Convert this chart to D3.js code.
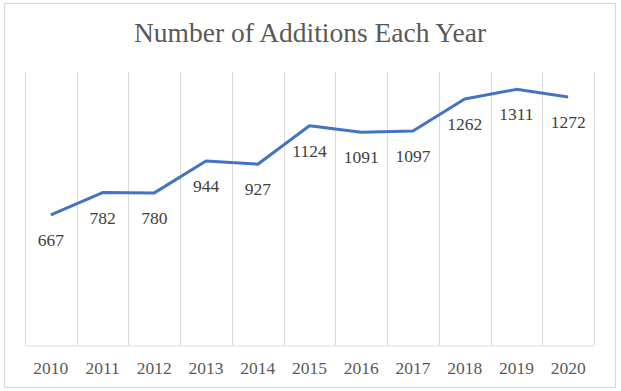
<!DOCTYPE html>
<html><head><meta charset="utf-8">
<script src="https://cdn.jsdelivr.net/npm/d3@7"></script>
<style>body{margin:0;background:#fff}svg{display:block}</style>
</head><body>
<script>
const years = ["2010","2011","2012","2013","2014","2015","2016","2017","2018","2019","2020"];
const additions = [667,782,780,944,927,1124,1091,1097,1262,1311,1272];
const title = "Number of Additions Each Year";

const W = 621, H = 391;
const svg = d3.select("body").append("svg").attr("width", W).attr("height", H);
svg.append("rect").attr("x",4.5).attr("y",3.5).attr("width",611).attr("height",384)
  .attr("fill","#fff").attr("stroke","#d9d9d9").attr("stroke-width",1.2);

const x = d3.scaleBand().domain(years).range([25, 594]).padding(0);
const y = d3.scaleLinear().domain([0, 1400]).range([345, 72]);
const font = "'Liberation Serif','Times New Roman',serif";

svg.append("text").attr("x", 310).attr("y", 42).attr("text-anchor","middle")
  .attr("font-family", font).attr("font-size", 27.5).attr("fill","#595959").text(title);

// vertical gridlines at category boundaries
const bounds = years.map(d => x(d)).concat([x(years[years.length-1]) + x.bandwidth()]);
svg.append("g").selectAll("line").data(bounds).join("line")
  .attr("x1", d => Math.round(d)+0.5).attr("x2", d => Math.round(d)+0.5)
  .attr("y1", y(1400)).attr("y2", y(0))
  .attr("stroke","#d9d9d9").attr("stroke-width",1);

// x axis
const xAxis = svg.append("g").attr("transform", `translate(0,${y(0)+0.5})`)
  .call(d3.axisBottom(x).tickSize(0).tickPadding(16));
xAxis.select(".domain").attr("stroke","#d9d9d9");
xAxis.selectAll("text").attr("font-family", font).attr("font-size", 17.5).attr("fill","#595959");

const cx = d => x(d) + x.bandwidth()/2;
const line = d3.line().x((d,i) => cx(years[i])).y(d => y(d));
svg.append("path").datum(additions).attr("d", line)
  .attr("fill","none").attr("stroke","#4472C4").attr("stroke-width",3).attr("stroke-linejoin","round");

svg.append("g").selectAll("text").data(additions).join("text")
  .attr("x", (d,i) => cx(years[i])).attr("y", d => y(d) + 31)
  .attr("text-anchor","middle").attr("font-family", font).attr("font-size", 17.5).attr("fill","#404040")
  .text(d => d);
</script>
</body></html>
